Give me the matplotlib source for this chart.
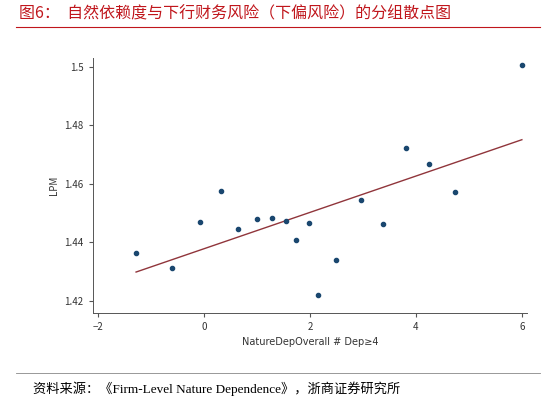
import matplotlib
matplotlib.use("Agg")
import matplotlib.pyplot as plt

plt.rcParams['font.family'] = ['Noto Sans CJK SC', 'DejaVu Sans']

x = [-1.28, -0.6, -0.08, 0.32, 0.64, 1.0, 1.28, 1.55, 1.74, 1.98, 2.15, 2.49, 2.96, 3.38, 3.81, 4.25, 4.74, 6.0]
y = [1.4364, 1.4313, 1.447, 1.4576, 1.4446, 1.448, 1.4484, 1.4474, 1.4409, 1.4467, 1.422, 1.434, 1.4545, 1.4463, 1.4723, 1.4669, 1.4573, 1.5007]
fit_x = [-1.28, 6.0]
fit_y = [1.4299, 1.4751]
xticks = [-2, 0, 2, 4, 6]
yticks = [1.42, 1.44, 1.46, 1.48, 1.5]
ytick_labels = ['1.42', '1.44', '1.46', '1.48', '1.5']

fig = plt.figure(figsize=(5.48, 4.03), dpi=100)
fig.text(0.035, 0.965, '图6：  自然依赖度与下行财务风险（下偏风险）的分组散点图', color='#c0161c', fontsize=11.5, va='center')
fig.add_artist(plt.Line2D([0.03, 0.985], [0.932, 0.932], color='#c0161c', lw=0.8))
fig.add_artist(plt.Line2D([0.03, 0.985], [0.075, 0.075], color='#888888', lw=0.6))
fig.text(0.06, 0.035, '资料来源：《Firm-Level Nature Dependence》，浙商证券研究所', fontsize=9.5, va='center',
         family=['Liberation Serif', 'Noto Sans CJK SC'])

ax = fig.add_axes([0.169, 0.224, 0.793, 0.632])
ax.scatter(x, y, s=9, color='#1a476f', zorder=3)
ax.plot(fit_x, fit_y, color='#90353b', lw=1)
ax.set_xlim(-2.1, 6.1)
ax.set_ylim(1.416, 1.503)
ax.set_xticks(xticks)
ax.set_yticks(yticks)
ax.set_yticklabels(ytick_labels)
ax.tick_params(labelsize=7, length=3, color='#555555', labelcolor='#333333')
for s in ['top', 'right']:
    ax.spines[s].set_visible(False)
for s in ['left', 'bottom']:
    ax.spines[s].set_color('#555555')
    ax.spines[s].set_linewidth(0.7)
ax.set_xlabel('NatureDepOverall # Dep≥4', fontsize=7, color='#333333', family=['DejaVu Sans'])
ax.set_ylabel('LPM', fontsize=7, color='#333333')
fig.savefig('out.png', dpi=100)
